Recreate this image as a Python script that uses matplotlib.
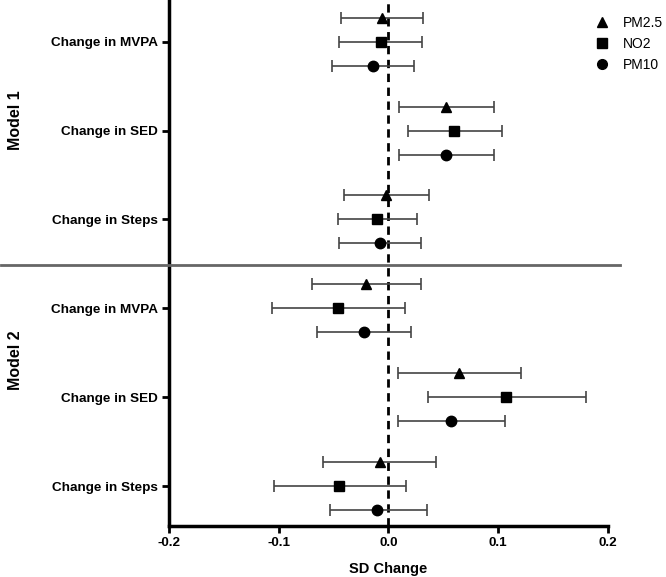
import numpy as np
import matplotlib
matplotlib.use("Agg")
import matplotlib.pyplot as plt
from matplotlib.lines import Line2D

plt.rcParams['font.family'] = ['Liberation Sans', 'DejaVu Sans']

outcomes = ["Change in MVPA", "Change in SED", "Change in Steps"]
models = ["Model 1", "Model 2"]
pollutants = ["PM2.5", "NO2", "PM10"]
markers = ["^", "s", "o"]

# estimates [model][outcome][pollutant]
est = [
    [[-0.006, -0.007, -0.014],
     [0.053, 0.060, 0.053],
     [-0.002, -0.010, -0.008]],
    [[-0.020, -0.046, -0.022],
     [0.064, 0.107, 0.057],
     [-0.008, -0.045, -0.010]],
]
lo = [
    [[-0.043, -0.045, -0.051],
     [0.010, 0.018, 0.010],
     [-0.040, -0.046, -0.045]],
    [[-0.070, -0.106, -0.065],
     [0.009, 0.036, 0.009],
     [-0.060, -0.104, -0.053]],
]
hi = [
    [[0.032, 0.031, 0.023],
     [0.096, 0.104, 0.096],
     [0.037, 0.026, 0.030]],
    [[0.030, 0.015, 0.021],
     [0.121, 0.180, 0.106],
     [0.043, 0.016, 0.035]],
]

fig = plt.figure(figsize=(6.66, 5.77), dpi=100)
ax = fig.add_axes([169/666, 1 - 526/577, (607.7 - 169)/666, 526/577])

offsets = [0.27, 0.0, -0.27]
yticks = []
ylabels = []
for m in range(2):
    for o in range(3):
        ypos = 5 - (m * 3 + o)
        yticks.append(ypos)
        ylabels.append(outcomes[o])
        for p in range(3):
            e = est[m][o][p]
            err = [[e - lo[m][o][p]], [hi[m][o][p] - e]]
            ax.errorbar([e], [ypos + offsets[p]], xerr=err, fmt=markers[p],
                        color="black", ms=7.5, ecolor="#444444", elinewidth=1.2,
                        capsize=4, capthick=1.2, zorder=3)

ax.axvline(0, color="black", ls=(0, (3, 2)), lw=2, zorder=2)

ax.set_xlim(-0.2, 0.2)
ax.set_ylim(-0.45, 5.47)
ax.set_xticks([-0.2, -0.1, 0.0, 0.1, 0.2])
ax.set_xticklabels(["-0.2", "-0.1", "0.0", "0.1", "0.2"])
ax.set_yticks(yticks)
ax.set_yticklabels(ylabels)
for lab in ax.get_xticklabels() + ax.get_yticklabels():
    lab.set_fontweight("bold")
    lab.set_fontsize(9.7)
ax.tick_params(axis="both", width=2, length=5, pad=3)
ax.spines["top"].set_visible(False)
ax.spines["right"].set_visible(False)
ax.spines["left"].set_linewidth(2.5)
ax.spines["bottom"].set_linewidth(2.5)
ax.set_xlabel("SD Change", fontweight="bold", fontsize=10.5, labelpad=9)

# separator between models
fig.add_artist(Line2D([1/666, 620/666], [1 - 265/577, 1 - 265/577],
                      color="#666666", lw=2))

fig.text(16/666, 1 - 120/577, "Model 1", rotation=90, ha="center", va="center",
         fontweight="bold", fontsize=11.5)
fig.text(16/666, 1 - 360/577, "Model 2", rotation=90, ha="center", va="center",
         fontweight="bold", fontsize=11.5)

handles = [Line2D([], [], marker=mk, color="black", ls="none", ms=7)
           for mk in markers]
ax.legend(handles, pollutants, loc="upper right", bbox_to_anchor=(1.155, 0.993),
          frameon=False, fontsize=10, handletextpad=0.5, labelspacing=0.5)

fig.savefig("out.png", dpi=100)
